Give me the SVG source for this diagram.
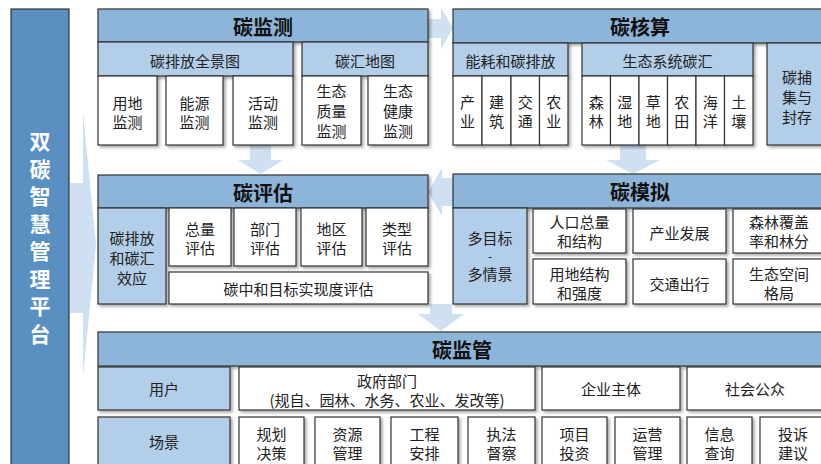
<svg xmlns="http://www.w3.org/2000/svg" width="821" height="464" viewBox="0 0 821 464">
<defs>
<filter id="sh" x="-10%" y="-10%" width="130%" height="130%">
<feDropShadow dx="2" dy="2" stdDeviation="1.5" flood-color="#000" flood-opacity="0.35"/>
</filter>
<style>
.hdr{fill:#8db5da;stroke:#333;stroke-width:1.2;filter:url(#sh)}
.sub{fill:#b3cee8;stroke:#333;stroke-width:1.2;filter:url(#sh)}
.leaf{fill:#fff;stroke:#333;stroke-width:1.2;filter:url(#sh)}
.col{fill:#5a8fc2;stroke:#333;stroke-width:1.2}
text{font-family:"Noto Sans CJK SC","Noto Sans",sans-serif;text-anchor:middle;dominant-baseline:central}
.t{font-size:15px;fill:#222}
.ti{font-size:20px;font-weight:bold;fill:#111}
.ct{font-size:21px;font-weight:bold;fill:#fff}
.arr{fill:#c6dbef;opacity:0.85}
</style>
</defs>
<rect width="821" height="464" fill="#fff"/>

<g id="connectors">
<polygon class="arr" points="70,183 83,183 83,112 96,245 83,377 83,313 70,313"/>
<polygon class="arr" points="428,19 441,19 441,8 453,28 441,49 441,38 428,38"/>
<polygon class="arr" points="250,145 271,145 271,160 283,160 261,174 238,160 250,160"/>
<polygon class="arr" points="620,145 646,145 646,160 660,160 633,174 606,160 620,160"/>
<polygon class="arr" points="453,178 442,178 442,168 428,192 442,216 442,206 453,206"/>
<polygon class="arr" points="430,304 452,304 452,314 464,314 441,331 418,314 430,314"/>
</g>

<g id="platform">
<rect class="col" x="11" y="9" width="58" height="460"/>
<text class="ct" x="40" y="140">双</text>
<text class="ct" x="40" y="167.5">碳</text>
<text class="ct" x="40" y="195">智</text>
<text class="ct" x="40" y="222.5">慧</text>
<text class="ct" x="40" y="250">管</text>
<text class="ct" x="40" y="277.5">理</text>
<text class="ct" x="40" y="305">平</text>
<text class="ct" x="40" y="332.5">台</text>
</g>

<g id="monitor">
<rect class="hdr" x="98" y="9" width="330" height="33"/>
<text class="ti" x="263" y="26">碳监测</text>
<g id="monitor-emission">
<rect class="sub" x="98" y="42" width="195" height="34"/>
<text class="t" x="195" y="60">碳排放全景图</text>
</g>
<g id="m-land"><rect class="leaf" x="98" y="76" width="59" height="69"/><text class="t" x="127.5" y="102">用地</text><text class="t" x="127.5" y="121">监测</text></g>
<g id="m-energy"><rect class="leaf" x="166" y="76" width="57" height="69"/><text class="t" x="194.5" y="102">能源</text><text class="t" x="194.5" y="121">监测</text></g>
<g id="m-activity"><rect class="leaf" x="233" y="76" width="60" height="69"/><text class="t" x="263" y="102">活动</text><text class="t" x="263" y="121">监测</text></g>
<g id="monitor-sink">
<rect class="sub" x="302" y="42" width="126" height="34"/>
<text class="t" x="365" y="60">碳汇地图</text>
</g>
<g id="m-ecoq"><rect class="leaf" x="302" y="76" width="59" height="69"/><text class="t" x="331.5" y="90">生态</text><text class="t" x="331.5" y="110">质量</text><text class="t" x="331.5" y="130">监测</text></g>
<g id="m-ecoh"><rect class="leaf" x="368" y="76" width="60" height="69"/><text class="t" x="398" y="90">生态</text><text class="t" x="398" y="110">健康</text><text class="t" x="398" y="130">监测</text></g>
</g>

<g id="accounting">
<rect class="hdr" x="453" y="9" width="375" height="34"/>
<text class="ti" x="640" y="26">碳核算</text>
<g id="a-energy">
<rect class="sub" x="453" y="43" width="115" height="33"/>
<text class="t" x="510.5" y="60">能耗和碳排放</text>
</g>
<g id="a-ind"><rect class="leaf" x="453" y="76" width="29" height="69"/><text class="t" x="467.5" y="101">产</text><text class="t" x="467.5" y="120">业</text></g>
<g id="a-bld"><rect class="leaf" x="482" y="76" width="29" height="69"/><text class="t" x="496.5" y="101">建</text><text class="t" x="496.5" y="120">筑</text></g>
<g id="a-trn"><rect class="leaf" x="511" y="76" width="28.5" height="69"/><text class="t" x="525.2" y="101">交</text><text class="t" x="525.2" y="120">通</text></g>
<g id="a-agr"><rect class="leaf" x="539.5" y="76" width="28.5" height="69"/><text class="t" x="553.7" y="101">农</text><text class="t" x="553.7" y="120">业</text></g>
<g id="a-eco">
<rect class="sub" x="582" y="43" width="171" height="33"/>
<text class="t" x="667.5" y="60">生态系统碳汇</text>
</g>
<g id="a-forest"><rect class="leaf" x="582" y="76" width="28.5" height="69"/><text class="t" x="596.2" y="101">森</text><text class="t" x="596.2" y="120">林</text></g>
<g id="a-wet"><rect class="leaf" x="610.5" y="76" width="28.5" height="69"/><text class="t" x="624.7" y="101">湿</text><text class="t" x="624.7" y="120">地</text></g>
<g id="a-grass"><rect class="leaf" x="639" y="76" width="28.5" height="69"/><text class="t" x="653.2" y="101">草</text><text class="t" x="653.2" y="120">地</text></g>
<g id="a-farm"><rect class="leaf" x="667.5" y="76" width="28.5" height="69"/><text class="t" x="681.7" y="101">农</text><text class="t" x="681.7" y="120">田</text></g>
<g id="a-ocean"><rect class="leaf" x="696" y="76" width="28.5" height="69"/><text class="t" x="710.2" y="101">海</text><text class="t" x="710.2" y="120">洋</text></g>
<g id="a-soil"><rect class="leaf" x="724.5" y="76" width="28.5" height="69"/><text class="t" x="738.7" y="101">土</text><text class="t" x="738.7" y="120">壤</text></g>
<g id="a-ccs"><rect class="sub" x="767" y="43" width="61" height="102"/><text class="t" x="797" y="76">碳捕</text><text class="t" x="797" y="96">集与</text><text class="t" x="797" y="116">封存</text></g>
</g>

<g id="assessment">
<rect class="hdr" x="98" y="175" width="330" height="33"/>
<text class="ti" x="263" y="192">碳评估</text>
<g id="e-effect"><rect class="sub" x="98" y="208" width="68" height="96"/><text class="t" x="132" y="237">碳排放</text><text class="t" x="132" y="257">和碳汇</text><text class="t" x="132" y="277">效应</text></g>
<g id="e-total"><rect class="leaf" x="169" y="208" width="62" height="58"/><text class="t" x="200" y="228">总量</text><text class="t" x="200" y="247">评估</text></g>
<g id="e-sector"><rect class="leaf" x="234" y="208" width="62" height="58"/><text class="t" x="265" y="228">部门</text><text class="t" x="265" y="247">评估</text></g>
<g id="e-region"><rect class="leaf" x="301" y="208" width="61" height="58"/><text class="t" x="331.5" y="228">地区</text><text class="t" x="331.5" y="247">评估</text></g>
<g id="e-type"><rect class="leaf" x="366" y="208" width="62" height="58"/><text class="t" x="397" y="228">类型</text><text class="t" x="397" y="247">评估</text></g>
<g id="e-neutral"><rect class="leaf" x="169" y="272" width="259" height="32"/><text class="t" x="298.5" y="288">碳中和目标实现度评估</text></g>
</g>

<g id="simulation">
<rect class="hdr" x="453" y="174" width="375" height="34"/>
<text class="ti" x="640" y="191">碳模拟</text>
<g id="s-multi"><rect class="sub" x="453" y="208" width="74" height="96"/><text class="t" x="490" y="237">多目标</text><text class="t" x="490" y="255" style="font-size:12px">-</text><text class="t" x="490" y="273">多情景</text></g>
<g id="s-pop"><rect class="leaf" x="533" y="209" width="93" height="44"/><text class="t" x="579.5" y="221">人口总量</text><text class="t" x="579.5" y="240">和结构</text></g>
<g id="s-ind"><rect class="leaf" x="633" y="209" width="93" height="44"/><text class="t" x="679.5" y="232">产业发展</text></g>
<g id="s-forest"><rect class="leaf" x="733" y="209" width="93" height="44"/><text class="t" x="779" y="221">森林覆盖</text><text class="t" x="779" y="240">率和林分</text></g>
<g id="s-land"><rect class="leaf" x="533" y="259" width="93" height="45"/><text class="t" x="579.5" y="273">用地结构</text><text class="t" x="579.5" y="292">和强度</text></g>
<g id="s-traffic"><rect class="leaf" x="633" y="259" width="93" height="45"/><text class="t" x="679.5" y="283">交通出行</text></g>
<g id="s-space"><rect class="leaf" x="733" y="259" width="93" height="45"/><text class="t" x="779" y="273">生态空间</text><text class="t" x="779" y="292">格局</text></g>
</g>

<g id="supervision">
<rect class="hdr" x="98" y="332" width="728" height="34"/>
<text class="ti" x="462" y="349">碳监管</text>
<g id="v-user"><rect class="sub" x="98" y="367" width="132" height="43"/><text class="t" x="164" y="388">用户</text></g>
<g id="v-gov"><rect class="leaf" x="239" y="367" width="296" height="43"/><text class="t" x="387" y="380">政府部门</text><text class="t" x="387" y="399">(规自、园林、水务、农业、发改等)</text></g>
<g id="v-ent"><rect class="leaf" x="542" y="367" width="138" height="43"/><text class="t" x="611" y="388">企业主体</text></g>
<g id="v-pub"><rect class="leaf" x="687" y="367" width="139" height="43"/><text class="t" x="755" y="388">社会公众</text></g>
<g id="v-scene"><rect class="sub" x="98" y="417" width="132" height="60"/><text class="t" x="164" y="441">场景</text></g>
<g id="v-plan"><rect class="leaf" x="239" y="417" width="65" height="60"/><text class="t" x="271.5" y="433">规划</text><text class="t" x="271.5" y="452">决策</text></g>
<g id="v-res"><rect class="leaf" x="315" y="417" width="65" height="60"/><text class="t" x="347.5" y="433">资源</text><text class="t" x="347.5" y="452">管理</text></g>
<g id="v-eng"><rect class="leaf" x="391" y="417" width="67" height="60"/><text class="t" x="424.5" y="433">工程</text><text class="t" x="424.5" y="452">安排</text></g>
<g id="v-law"><rect class="leaf" x="468" y="417" width="67" height="60"/><text class="t" x="501.5" y="433">执法</text><text class="t" x="501.5" y="452">督察</text></g>
<g id="v-proj"><rect class="leaf" x="542" y="417" width="65" height="60"/><text class="t" x="574.5" y="433">项目</text><text class="t" x="574.5" y="452">投资</text></g>
<g id="v-ops"><rect class="leaf" x="615" y="417" width="65" height="60"/><text class="t" x="647.5" y="433">运营</text><text class="t" x="647.5" y="452">管理</text></g>
<g id="v-info"><rect class="leaf" x="687" y="417" width="65" height="60"/><text class="t" x="719.5" y="433">信息</text><text class="t" x="719.5" y="452">查询</text></g>
<g id="v-comp"><rect class="leaf" x="760" y="417" width="66" height="60"/><text class="t" x="793" y="433">投诉</text><text class="t" x="793" y="452">建议</text></g>
</g>
</svg>
